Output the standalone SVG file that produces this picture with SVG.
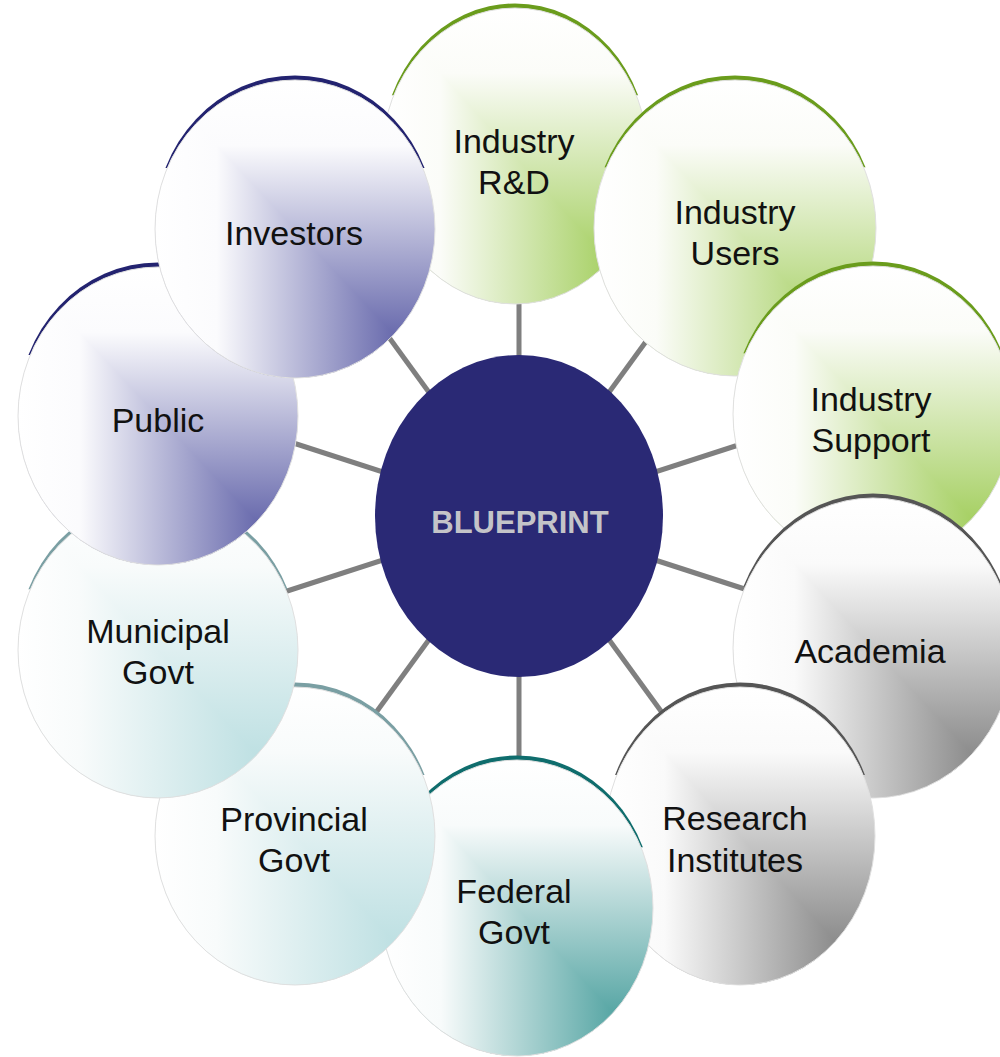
<svg xmlns="http://www.w3.org/2000/svg" width="1000" height="1057" viewBox="0 0 1000 1057">
<style>
.lbl{font-family:"Liberation Sans",Arial,sans-serif;font-size:34px;fill:#111;text-anchor:middle}
.ctr{font-family:"Liberation Sans",Arial,sans-serif;font-size:31px;font-weight:bold;fill:#c4c4c8;text-anchor:middle}
.edge{fill:none;stroke:#e0e0e0;stroke-width:1}
.arc{clip-path:url(#topcut)}
.conn line{stroke:#7f7f7f;stroke-width:5}
</style>
<defs>
<clipPath id="topcut" clipPathUnits="objectBoundingBox"><rect x="-0.1" y="-0.1" width="1.2" height="0.41"/></clipPath>
<linearGradient id="hP" x1="0" y1="0" x2="1" y2="0"><stop offset="0" stop-color="#fff"/><stop offset="0.22" stop-color="#fbfbfd"/><stop offset="1" stop-color="#484a9b"/></linearGradient>
<linearGradient id="vP" x1="0" y1="0" x2="0" y2="1"><stop offset="0" stop-color="#fff"/><stop offset="0.22" stop-color="#fbfbfd"/><stop offset="1" stop-color="#484a9b"/></linearGradient>
<linearGradient id="hG" x1="0" y1="0" x2="1" y2="0"><stop offset="0" stop-color="#fff"/><stop offset="0.22" stop-color="#fbfcf8"/><stop offset="1" stop-color="#93c642"/></linearGradient>
<linearGradient id="vG" x1="0" y1="0" x2="0" y2="1"><stop offset="0" stop-color="#fff"/><stop offset="0.22" stop-color="#fbfcf8"/><stop offset="1" stop-color="#93c642"/></linearGradient>
<linearGradient id="hK" x1="0" y1="0" x2="1" y2="0"><stop offset="0" stop-color="#fff"/><stop offset="0.22" stop-color="#fafafa"/><stop offset="1" stop-color="#737373"/></linearGradient>
<linearGradient id="vK" x1="0" y1="0" x2="0" y2="1"><stop offset="0" stop-color="#fff"/><stop offset="0.22" stop-color="#fafafa"/><stop offset="1" stop-color="#737373"/></linearGradient>
<linearGradient id="hT" x1="0" y1="0" x2="1" y2="0"><stop offset="0" stop-color="#fff"/><stop offset="0.22" stop-color="#f8fbfb"/><stop offset="1" stop-color="#b1dadd"/></linearGradient>
<linearGradient id="vT" x1="0" y1="0" x2="0" y2="1"><stop offset="0" stop-color="#fff"/><stop offset="0.22" stop-color="#f8fbfb"/><stop offset="1" stop-color="#b1dadd"/></linearGradient>
<linearGradient id="hF" x1="0" y1="0" x2="1" y2="0"><stop offset="0" stop-color="#fff"/><stop offset="0.22" stop-color="#f8fbfb"/><stop offset="1" stop-color="#339391"/></linearGradient>
<linearGradient id="vF" x1="0" y1="0" x2="0" y2="1"><stop offset="0" stop-color="#fff"/><stop offset="0.22" stop-color="#f8fbfb"/><stop offset="1" stop-color="#339391"/></linearGradient>
<clipPath id="c-rd"><ellipse cx="515" cy="156" rx="133" ry="148"/></clipPath>
<clipPath id="c-users"><ellipse cx="735" cy="228" rx="141" ry="148"/></clipPath>
<clipPath id="c-support"><ellipse cx="873" cy="414" rx="140" ry="148"/></clipPath>
<clipPath id="c-academia"><ellipse cx="873" cy="648" rx="140" ry="150"/></clipPath>
<clipPath id="c-research"><ellipse cx="740" cy="836" rx="135" ry="149"/></clipPath>
<clipPath id="c-federal"><ellipse cx="517" cy="908" rx="136" ry="148"/></clipPath>
<clipPath id="c-provincial"><ellipse cx="295" cy="836" rx="140" ry="149"/></clipPath>
<clipPath id="c-municipal"><ellipse cx="158" cy="650" rx="140" ry="148"/></clipPath>
<clipPath id="c-public"><ellipse cx="158" cy="416" rx="140" ry="149"/></clipPath>
<clipPath id="c-investors"><ellipse cx="295" cy="229" rx="140" ry="149"/></clipPath>
</defs>
<rect width="1000" height="1057" fill="#fff"/>
<g id="connectors" class="conn">
<line x1="519" y1="516" x2="519" y2="266"/>
<line x1="519" y1="516" x2="666" y2="314"/>
<line x1="519" y1="516" x2="757" y2="439"/>
<line x1="519" y1="516" x2="757" y2="593"/>
<line x1="519" y1="516" x2="666" y2="718"/>
<line x1="519" y1="516" x2="519" y2="766"/>
<line x1="519" y1="516" x2="372" y2="718"/>
<line x1="519" y1="516" x2="281" y2="593"/>
<line x1="519" y1="516" x2="281" y2="439"/>
<line x1="519" y1="516" x2="372" y2="314"/>
</g>
<g id="n-blueprint">
<ellipse cx="519" cy="516" rx="144" ry="161" fill="#2a2975"/>
<text class="ctr" x="520" y="533">BLUEPRINT</text>
</g>
<g id="n-industry-rd">
<ellipse class="arc" cx="515" cy="151.5" rx="133" ry="148" fill="#6a9c1c"/>
<g clip-path="url(#c-rd)"><rect x="382" y="8" width="266" height="296" fill="url(#vG)"/><polygon points="382,8 382,304 648,304" fill="url(#hG)"/></g>
<ellipse class="edge" cx="515" cy="156" rx="133" ry="148"/>
<text class="lbl" x="514" y="153">Industry</text><text class="lbl" x="514" y="194">R&amp;D</text>
</g>
<g id="n-industry-users">
<ellipse class="arc" cx="735" cy="223.5" rx="141" ry="148" fill="#6a9c1c"/>
<g clip-path="url(#c-users)"><rect x="594" y="80" width="282" height="296" fill="url(#vG)"/><polygon points="594,80 594,376 876,376" fill="url(#hG)"/></g>
<ellipse class="edge" cx="735" cy="228" rx="141" ry="148"/>
<text class="lbl" x="735" y="224">Industry</text><text class="lbl" x="735" y="265">Users</text>
</g>
<g id="n-industry-support">
<ellipse class="arc" cx="873" cy="409.5" rx="140" ry="148" fill="#6a9c1c"/>
<g clip-path="url(#c-support)"><rect x="733" y="266" width="280" height="296" fill="url(#vG)"/><polygon points="733,266 733,562 1013,562" fill="url(#hG)"/></g>
<ellipse class="edge" cx="873" cy="414" rx="140" ry="148"/>
<text class="lbl" x="871" y="411">Industry</text><text class="lbl" x="871" y="452">Support</text>
</g>
<g id="n-academia">
<ellipse class="arc" cx="873" cy="643.5" rx="140" ry="150" fill="#555"/>
<g clip-path="url(#c-academia)"><rect x="733" y="498" width="280" height="300" fill="url(#vK)"/><polygon points="733,498 733,798 1013,798" fill="url(#hK)"/></g>
<ellipse class="edge" cx="873" cy="648" rx="140" ry="150"/>
<text class="lbl" x="870" y="663">Academia</text>
</g>
<g id="n-research-institutes">
<ellipse class="arc" cx="740" cy="831.5" rx="135" ry="149" fill="#555"/>
<g clip-path="url(#c-research)"><rect x="605" y="687" width="270" height="298" fill="url(#vK)"/><polygon points="605,687 605,985 875,985" fill="url(#hK)"/></g>
<ellipse class="edge" cx="740" cy="836" rx="135" ry="149"/>
<text class="lbl" x="735" y="830">Research</text><text class="lbl" x="735" y="872">Institutes</text>
</g>
<g id="n-federal-govt">
<ellipse class="arc" cx="517" cy="903.5" rx="136" ry="148" fill="#0f6d6d"/>
<g clip-path="url(#c-federal)"><rect x="381" y="760" width="272" height="296" fill="url(#vF)"/><polygon points="381,760 381,1056 653,1056" fill="url(#hF)"/></g>
<ellipse class="edge" cx="517" cy="908" rx="136" ry="148"/>
<text class="lbl" x="514" y="903">Federal</text><text class="lbl" x="514" y="944">Govt</text>
</g>
<g id="n-provincial-govt">
<ellipse class="arc" cx="295" cy="831.5" rx="140" ry="149" fill="#7a9fa3"/>
<g clip-path="url(#c-provincial)"><rect x="155" y="687" width="280" height="298" fill="url(#vT)"/><polygon points="155,687 155,985 435,985" fill="url(#hT)"/></g>
<ellipse class="edge" cx="295" cy="836" rx="140" ry="149"/>
<text class="lbl" x="294" y="831">Provincial</text><text class="lbl" x="294" y="872">Govt</text>
</g>
<g id="n-municipal-govt">
<ellipse class="arc" cx="158" cy="645.5" rx="140" ry="148" fill="#7a9fa3"/>
<g clip-path="url(#c-municipal)"><rect x="18" y="502" width="280" height="296" fill="url(#vT)"/><polygon points="18,502 18,798 298,798" fill="url(#hT)"/></g>
<ellipse class="edge" cx="158" cy="650" rx="140" ry="148"/>
<text class="lbl" x="158" y="643">Municipal</text><text class="lbl" x="158" y="684">Govt</text>
</g>
<g id="n-public">
<ellipse class="arc" cx="158" cy="411.5" rx="140" ry="149" fill="#232370"/>
<g clip-path="url(#c-public)"><rect x="18" y="267" width="280" height="298" fill="url(#vP)"/><polygon points="18,267 18,565 298,565" fill="url(#hP)"/></g>
<ellipse class="edge" cx="158" cy="416" rx="140" ry="149"/>
<text class="lbl" x="158" y="432">Public</text>
</g>
<g id="n-investors">
<ellipse class="arc" cx="295" cy="224.5" rx="140" ry="149" fill="#232370"/>
<g clip-path="url(#c-investors)"><rect x="155" y="80" width="280" height="298" fill="url(#vP)"/><polygon points="155,80 155,378 435,378" fill="url(#hP)"/></g>
<ellipse class="edge" cx="295" cy="229" rx="140" ry="149"/>
<text class="lbl" x="294" y="245">Investors</text>
</g>
</svg>
